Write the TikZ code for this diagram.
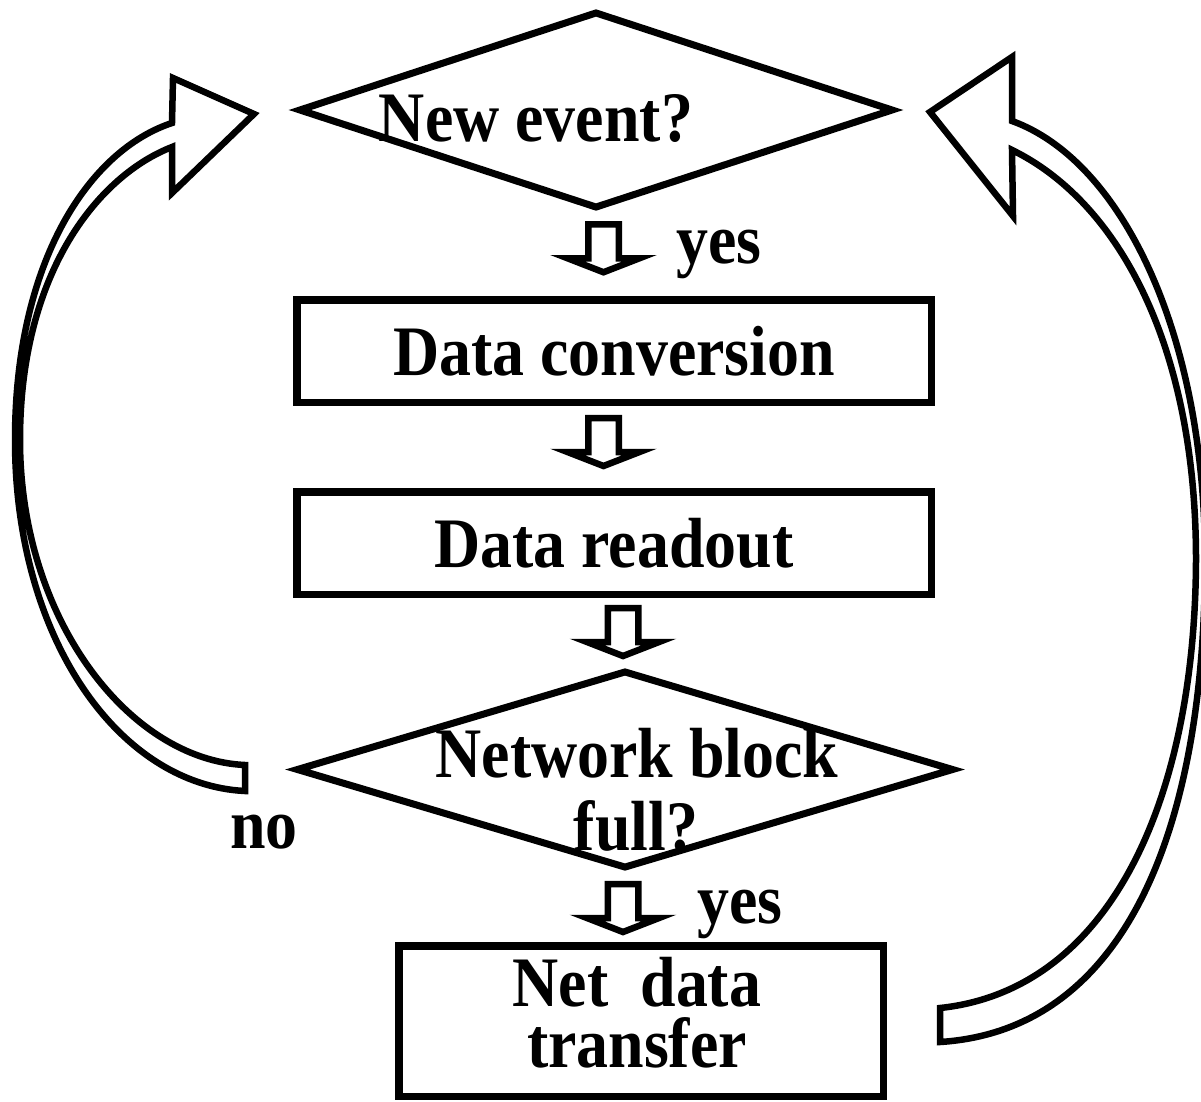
\documentclass[tikz,border=0pt]{standalone}
\usepackage{fontspec}
\setmainfont{Liberation Serif}[FakeStretch=0.9]
\usetikzlibrary{shapes.geometric}

\newcommand{\bigbold}{\fontsize{71}{61}\selectfont\bfseries}

\begin{document}
\begin{tikzpicture}[
    x=1pt, y=-1pt,
    flowbox/.style={rectangle, draw=black, line width=7.5pt, inner sep=0pt, align=center, font=\bigbold},
    decision/.style={diamond, draw=black, line width=7pt, inner sep=0pt},
    lbl/.style={font=\bigbold, inner sep=0pt, anchor=base},
    fatline/.style={draw=black, line width=6.5pt, line join=miter, fill=white},
    pics/downblk/.style={code={
        \draw[fatline] (-15.25,0) -- (15.25,0) -- (15.25,34) -- (36,34) -- (0,48)
            -- (-36,34) -- (-15.25,34) -- cycle;
    }}
]
\clip (0,0) rectangle (1201,1101);

% Decisions
\node[decision, minimum width=595pt, minimum height=197pt] (newev) at (596,110) {};
\node[decision, minimum width=658pt, minimum height=198pt] (netblk) at (625,769.5) {};

% Process boxes
\node[flowbox, minimum width=634.5pt, minimum height=102.5pt] (conv) at (614,351) {Data conversion};
\node[flowbox, minimum width=634.5pt, minimum height=102.5pt] (readout) at (614,543) {Data readout};
\node[flowbox, minimum width=484.5pt, minimum height=150.5pt] (xfer) at (641,1021) {};

% Texts
\node[lbl] (newev_t) at (536,141) {New event?};
\node[lbl] (netblk_t1) at (637,777) {Network block};
\node[lbl] (netblk_t2) at (636,850) {full?};
\node[lbl, anchor=center, align=center] (xfer_t) at (637,1013) {Net\ \ data\\transfer};

% Branch labels
\node[lbl, anchor=base west] (yes1) at (676,263) {yes};
\node[lbl, anchor=base west] (yes2) at (697,923) {yes};
\node[lbl, anchor=base west] (no) at (230,848) {no};

% Straight block arrows
\pic at (603.5,224.25) {downblk};
\pic at (603.5,418) {downblk};
\pic at (623,608) {downblk};
\pic at (623,884) {downblk};

% Loop back on "no"
\draw[fatline] (245,791) .. controls (120,785) and (15,640) .. (15,440)
    .. controls (15,260) and (90,150) .. (172,123) -- (173,78) -- (254,114)
    -- (172,193) -- (172,147) .. controls (100,175) and (20,270) .. (20,440)
    .. controls (20,620) and (130,760) .. (245,765) -- cycle;

% Loop back after transfer
\draw[fatline] (1012,121) .. controls (1120,160) and (1205,330) .. (1205,560)
    .. controls (1205,820) and (1130,1030) .. (940,1042) -- (940,1008)
    .. controls (1110,990) and (1195,800) .. (1196,560)
    .. controls (1196,340) and (1115,200) .. (1012,150) -- (1013,216)
    -- (930,112) -- (1012,57) -- cycle;

\end{tikzpicture}
\end{document}
